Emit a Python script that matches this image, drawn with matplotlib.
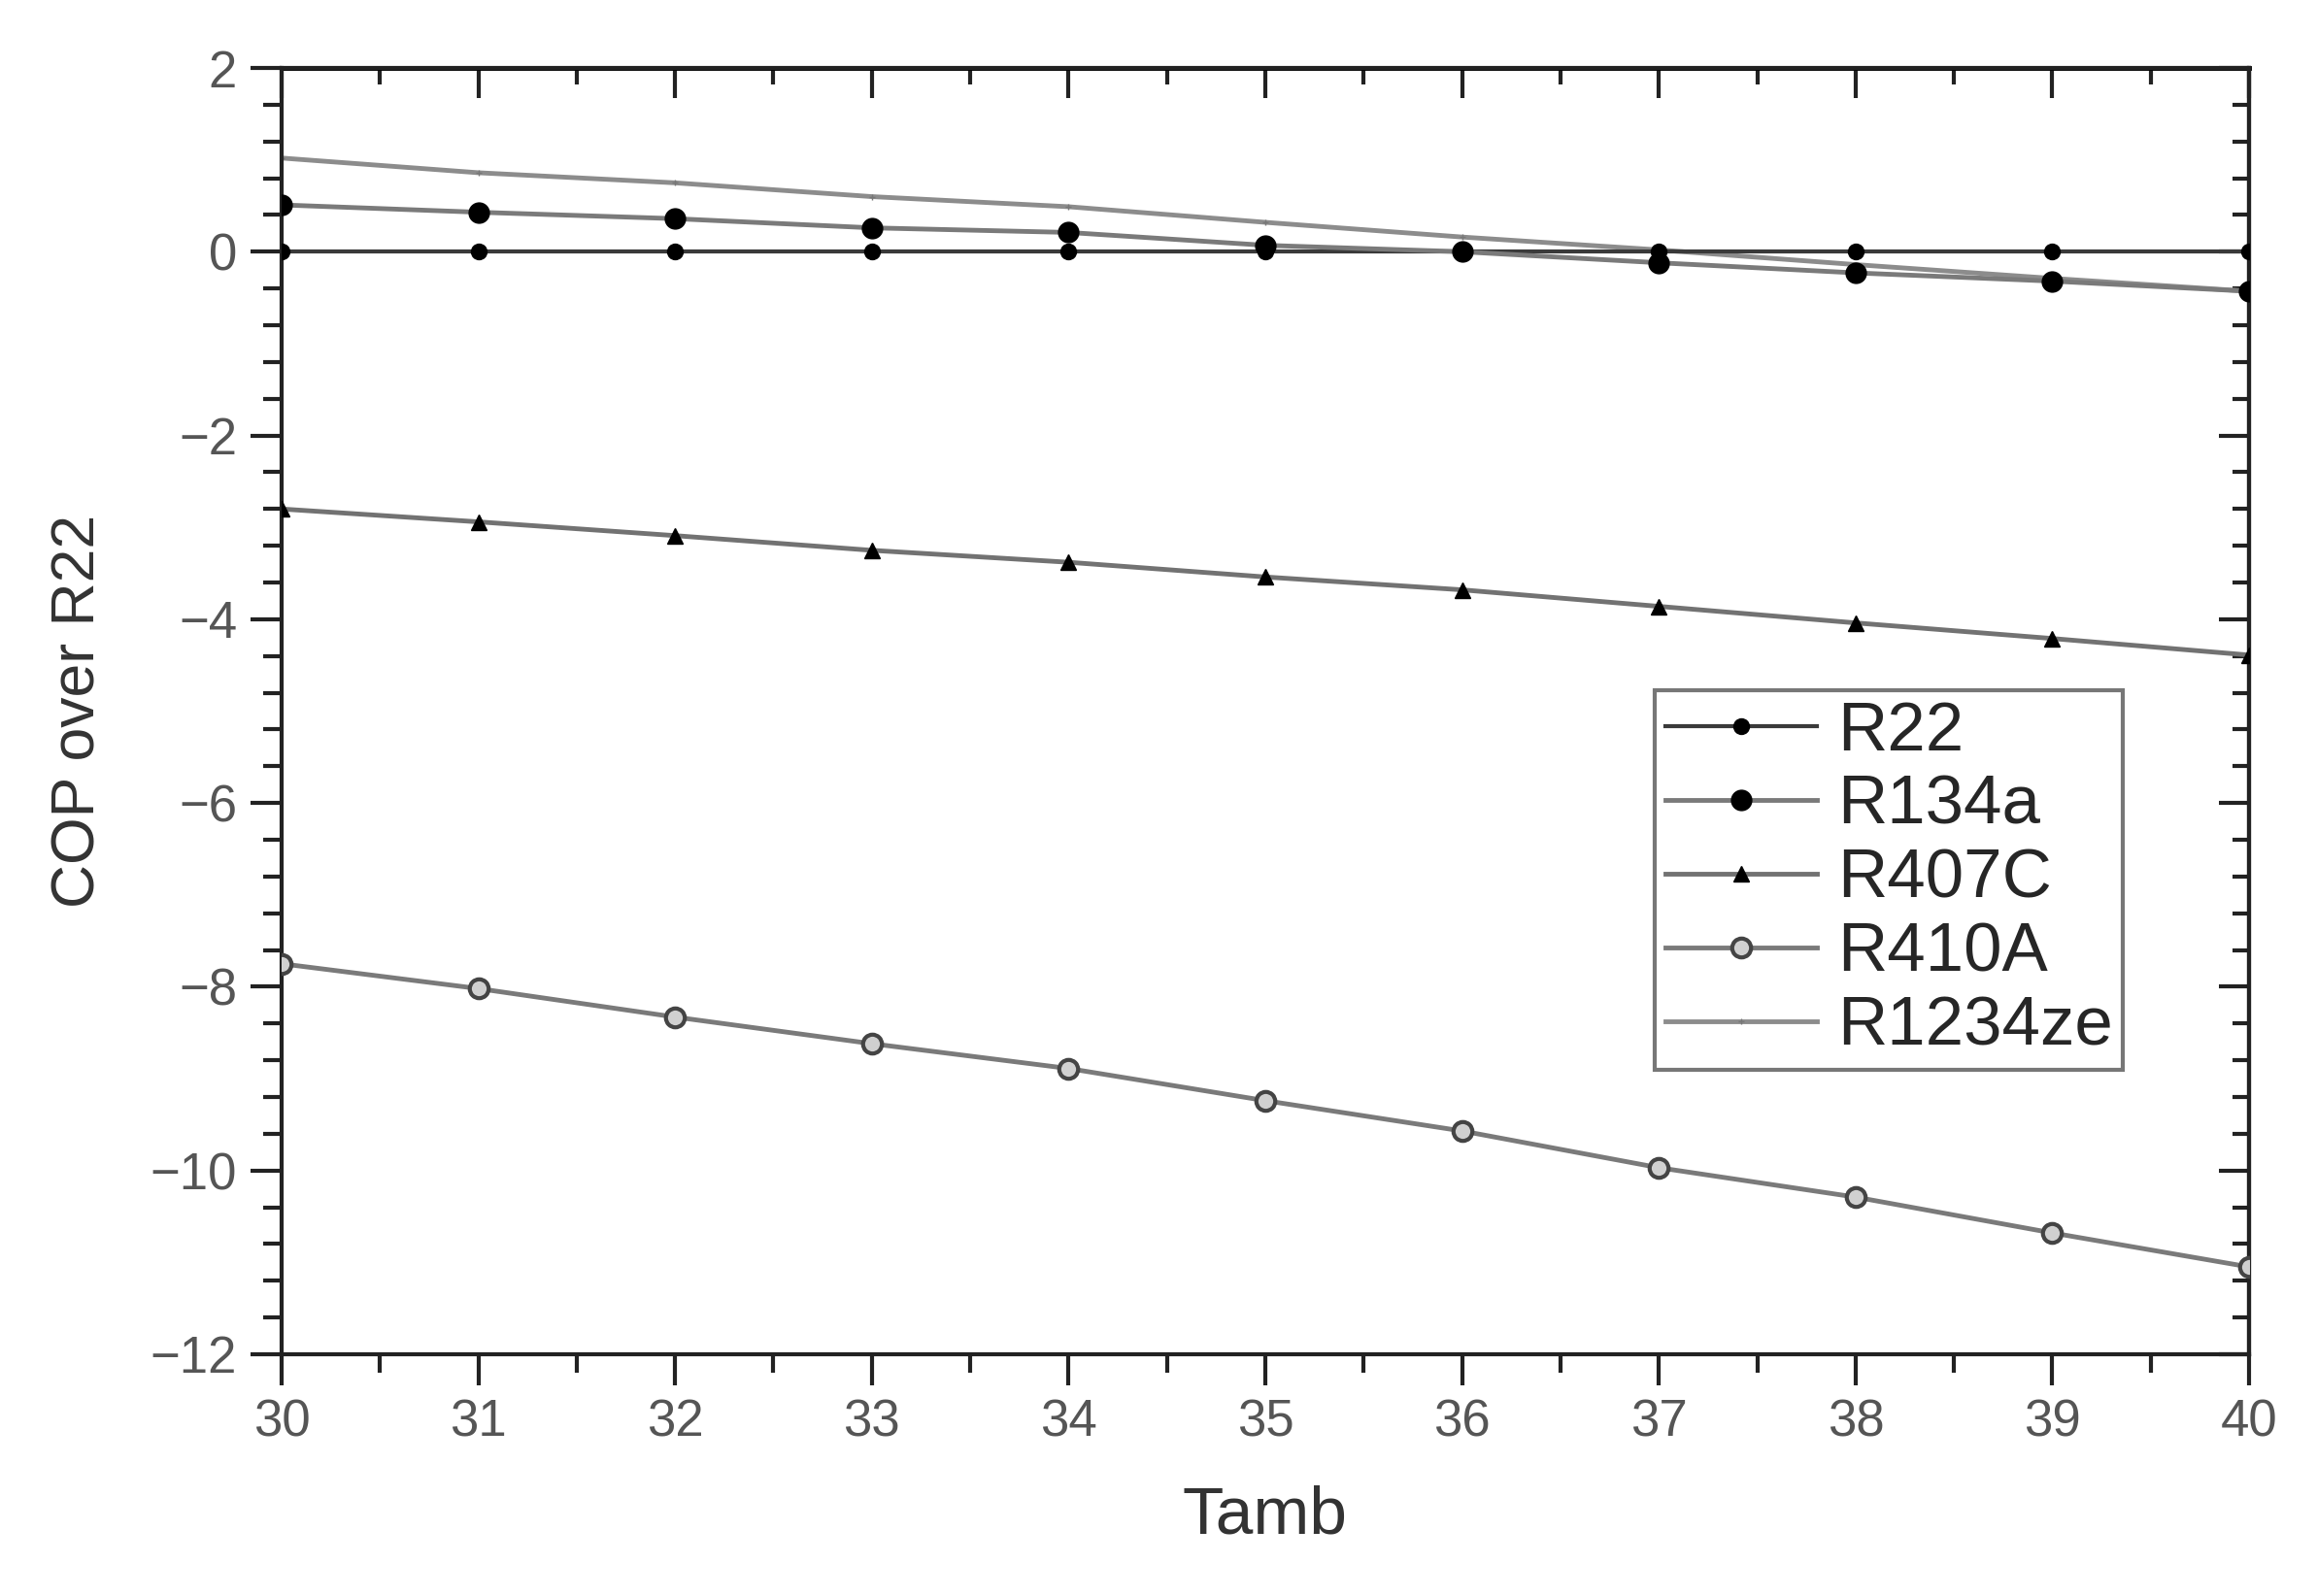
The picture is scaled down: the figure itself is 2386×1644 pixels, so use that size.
import numpy as np
import matplotlib
matplotlib.use("Agg")
import matplotlib.pyplot as plt
from matplotlib.ticker import MultipleLocator

plt.rcParams['font.family'] = ['Liberation Sans', 'DejaVu Sans']

# Data
tamb = [30, 31, 32, 33, 34, 35, 36, 37, 38, 39, 40]
r22 = [0, 0, 0, 0, 0, 0, 0, 0, 0, 0, 0]
r134a = [0.51, 0.43, 0.36, 0.26, 0.21, 0.07, 0.0, -0.12, -0.23, -0.32, -0.43]
r407c = [-2.80, -2.94, -3.09, -3.25, -3.38, -3.54, -3.68, -3.86, -4.04, -4.21, -4.39]
r410a = [-7.75, -8.02, -8.33, -8.62, -8.89, -9.24, -9.57, -9.97, -10.29, -10.68, -11.05]
r1234ze = [1.02, 0.86, 0.75, 0.60, 0.49, 0.32, 0.16, 0.02, -0.14, -0.29, -0.43]

xticks = [30, 31, 32, 33, 34, 35, 36, 37, 38, 39, 40]
yticks = [2, 0, -2, -4, -6, -8, -10, -12]

fig = plt.figure(figsize=(23.86, 16.44), dpi=100)
ax = fig.add_axes([0.1215, 0.1515, 0.8492, 0.8059])

# Plot the series
ax.plot(tamb, r22, color='#3a3a3a', lw=3, marker='o', ms=11.5,
        mfc='black', mec='black', label='R22', zorder=3)
ax.plot(tamb, r134a, color='#7a7a7a', lw=3.5, marker='o', ms=15,
        mfc='black', mec='black', label='R134a', zorder=4)
ax.plot(tamb, r407c, color='#727272', lw=3.5, marker='^', ms=11.5,
        mfc='black', mec='black', label='R407C', zorder=3)
ax.plot(tamb, r410a, color='#7a7a7a', lw=3.5, marker='o', ms=14,
        mfc='#d0d0d0', mec='#444444', mew=3, label='R410A', zorder=3)
ax.plot(tamb, r1234ze, color='#8c8c8c', lw=3.5, marker='+', ms=5,
        mec='#777777', label='R1234ze', zorder=2)

# Axis limits and ticks
ax.set_xlim(30, 40)
ax.set_ylim(-12, 2)
ax.set_xticks(xticks)
ax.set_yticks(yticks)
ax.xaxis.set_minor_locator(MultipleLocator(0.5))
ax.yaxis.set_minor_locator(MultipleLocator(0.4))

for sp in ax.spines.values():
    sp.set_linewidth(3)
    sp.set_color('#222222')

ax.tick_params(which='major', direction='out', length=23, width=3,
               color='#222222', labelcolor='#555555', labelsize=38, pad=10)
ax.tick_params(which='minor', direction='out', length=14, width=3,
               color='#222222')

# mirrored ticks on top/right pointing inward
top = ax.secondary_xaxis('top')
top.set_xticks(xticks)
top.xaxis.set_minor_locator(MultipleLocator(0.5))
top.tick_params(which='major', direction='in', length=22, width=3,
                color='#222222', labeltop=False)
top.tick_params(which='minor', direction='in', length=12, width=3,
                color='#222222')
top.spines['top'].set_linewidth(3.5)

right = ax.secondary_yaxis('right')
right.set_yticks(yticks)
right.yaxis.set_minor_locator(MultipleLocator(0.4))
right.tick_params(which='major', direction='in', length=22, width=3,
                  color='#222222', labelright=False)
right.tick_params(which='minor', direction='in', length=12, width=3,
                  color='#222222')
right.spines['right'].set_linewidth(3)

ax.set_xlabel('Tamb', fontsize=50, color='#333333', labelpad=28)
ax.set_ylabel('COP over R22', fontsize=45, color='#333333', labelpad=32)

leg = ax.legend(loc='upper left', bbox_to_anchor=(0.698, 0.516),
                borderaxespad=0, fontsize=51, frameon=True, fancybox=False,
                handlelength=2.2, handletextpad=0.3, labelspacing=0.14,
                borderpad=0.15)
leg.get_frame().set_edgecolor('#555555')
leg.get_frame().set_linewidth(3)
for t in leg.get_texts():
    t.set_color('#262626')

fig.savefig('out.png', dpi=100, facecolor='white')
